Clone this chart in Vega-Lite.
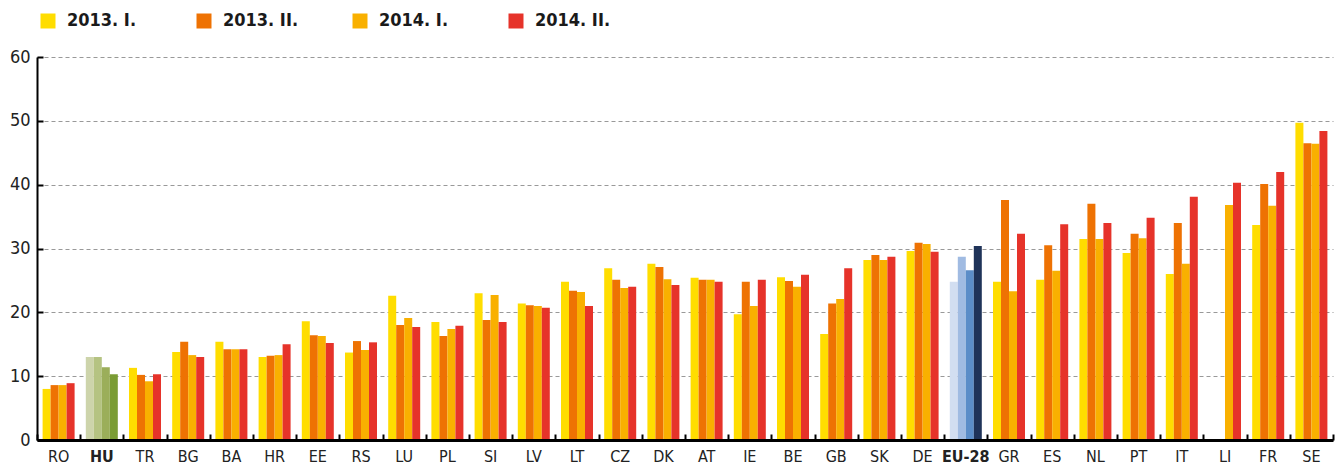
{
  "$schema": "https://vega.github.io/schema/vega-lite/v6.json",
  "width": 1296,
  "height": 383,
  "autosize": {"type": "none"},
  "padding": {"left": 37, "top": 57, "right": 6, "bottom": 25},
  "background": "white",
  "config": {
    "view": {"stroke": null},
    "font": "DejaVu Sans Condensed",
    "axis": {"labelFont": "DejaVu Sans Condensed", "labelColor": "#222222"}
  },
  "data": {
    "values": [
      {"country": "RO", "period": "2013. I.", "value": 8.0},
      {"country": "RO", "period": "2013. II.", "value": 8.6},
      {"country": "RO", "period": "2014. I.", "value": 8.6},
      {"country": "RO", "period": "2014. II.", "value": 8.9},
      {"country": "HU", "period": "2013. I.", "value": 13.0},
      {"country": "HU", "period": "2013. II.", "value": 13.0},
      {"country": "HU", "period": "2014. I.", "value": 11.4},
      {"country": "HU", "period": "2014. II.", "value": 10.3},
      {"country": "TR", "period": "2013. I.", "value": 11.3},
      {"country": "TR", "period": "2013. II.", "value": 10.2},
      {"country": "TR", "period": "2014. I.", "value": 9.2},
      {"country": "TR", "period": "2014. II.", "value": 10.3},
      {"country": "BG", "period": "2013. I.", "value": 13.8},
      {"country": "BG", "period": "2013. II.", "value": 15.4},
      {"country": "BG", "period": "2014. I.", "value": 13.3},
      {"country": "BG", "period": "2014. II.", "value": 13.0},
      {"country": "BA", "period": "2013. I.", "value": 15.4},
      {"country": "BA", "period": "2013. II.", "value": 14.2},
      {"country": "BA", "period": "2014. I.", "value": 14.2},
      {"country": "BA", "period": "2014. II.", "value": 14.2},
      {"country": "HR", "period": "2013. I.", "value": 13.0},
      {"country": "HR", "period": "2013. II.", "value": 13.2},
      {"country": "HR", "period": "2014. I.", "value": 13.3},
      {"country": "HR", "period": "2014. II.", "value": 15.0},
      {"country": "EE", "period": "2013. I.", "value": 18.6},
      {"country": "EE", "period": "2013. II.", "value": 16.4},
      {"country": "EE", "period": "2014. I.", "value": 16.3},
      {"country": "EE", "period": "2014. II.", "value": 15.2},
      {"country": "RS", "period": "2013. I.", "value": 13.7},
      {"country": "RS", "period": "2013. II.", "value": 15.5},
      {"country": "RS", "period": "2014. I.", "value": 14.1},
      {"country": "RS", "period": "2014. II.", "value": 15.3},
      {"country": "LU", "period": "2013. I.", "value": 22.6},
      {"country": "LU", "period": "2013. II.", "value": 18.0},
      {"country": "LU", "period": "2014. I.", "value": 19.1},
      {"country": "LU", "period": "2014. II.", "value": 17.7},
      {"country": "PL", "period": "2013. I.", "value": 18.5},
      {"country": "PL", "period": "2013. II.", "value": 16.3},
      {"country": "PL", "period": "2014. I.", "value": 17.4},
      {"country": "PL", "period": "2014. II.", "value": 17.9},
      {"country": "SI", "period": "2013. I.", "value": 23.0},
      {"country": "SI", "period": "2013. II.", "value": 18.8},
      {"country": "SI", "period": "2014. I.", "value": 22.7},
      {"country": "SI", "period": "2014. II.", "value": 18.5},
      {"country": "LV", "period": "2013. I.", "value": 21.4},
      {"country": "LV", "period": "2013. II.", "value": 21.1},
      {"country": "LV", "period": "2014. I.", "value": 21.0},
      {"country": "LV", "period": "2014. II.", "value": 20.7},
      {"country": "LT", "period": "2013. I.", "value": 24.8},
      {"country": "LT", "period": "2013. II.", "value": 23.4},
      {"country": "LT", "period": "2014. I.", "value": 23.2},
      {"country": "LT", "period": "2014. II.", "value": 21.0},
      {"country": "CZ", "period": "2013. I.", "value": 26.9},
      {"country": "CZ", "period": "2013. II.", "value": 25.1},
      {"country": "CZ", "period": "2014. I.", "value": 23.8},
      {"country": "CZ", "period": "2014. II.", "value": 24.0},
      {"country": "DK", "period": "2013. I.", "value": 27.6},
      {"country": "DK", "period": "2013. II.", "value": 27.1},
      {"country": "DK", "period": "2014. I.", "value": 25.2},
      {"country": "DK", "period": "2014. II.", "value": 24.3},
      {"country": "AT", "period": "2013. I.", "value": 25.4},
      {"country": "AT", "period": "2013. II.", "value": 25.1},
      {"country": "AT", "period": "2014. I.", "value": 25.1},
      {"country": "AT", "period": "2014. II.", "value": 24.8},
      {"country": "IE", "period": "2013. I.", "value": 19.7},
      {"country": "IE", "period": "2013. II.", "value": 24.8},
      {"country": "IE", "period": "2014. I.", "value": 21.0},
      {"country": "IE", "period": "2014. II.", "value": 25.1},
      {"country": "BE", "period": "2013. I.", "value": 25.5},
      {"country": "BE", "period": "2013. II.", "value": 24.9},
      {"country": "BE", "period": "2014. I.", "value": 24.0},
      {"country": "BE", "period": "2014. II.", "value": 25.9},
      {"country": "GB", "period": "2013. I.", "value": 16.6},
      {"country": "GB", "period": "2013. II.", "value": 21.4},
      {"country": "GB", "period": "2014. I.", "value": 22.1},
      {"country": "GB", "period": "2014. II.", "value": 26.9},
      {"country": "SK", "period": "2013. I.", "value": 28.2},
      {"country": "SK", "period": "2013. II.", "value": 29.0},
      {"country": "SK", "period": "2014. I.", "value": 28.2},
      {"country": "SK", "period": "2014. II.", "value": 28.7},
      {"country": "DE", "period": "2013. I.", "value": 29.6},
      {"country": "DE", "period": "2013. II.", "value": 30.9},
      {"country": "DE", "period": "2014. I.", "value": 30.7},
      {"country": "DE", "period": "2014. II.", "value": 29.5},
      {"country": "EU-28", "period": "2013. I.", "value": 24.8},
      {"country": "EU-28", "period": "2013. II.", "value": 28.7},
      {"country": "EU-28", "period": "2014. I.", "value": 26.6},
      {"country": "EU-28", "period": "2014. II.", "value": 30.4},
      {"country": "GR", "period": "2013. I.", "value": 24.8},
      {"country": "GR", "period": "2013. II.", "value": 37.6},
      {"country": "GR", "period": "2014. I.", "value": 23.3},
      {"country": "GR", "period": "2014. II.", "value": 32.3},
      {"country": "ES", "period": "2013. I.", "value": 25.1},
      {"country": "ES", "period": "2013. II.", "value": 30.5},
      {"country": "ES", "period": "2014. I.", "value": 26.5},
      {"country": "ES", "period": "2014. II.", "value": 33.8},
      {"country": "NL", "period": "2013. I.", "value": 31.5},
      {"country": "NL", "period": "2013. II.", "value": 37.0},
      {"country": "NL", "period": "2014. I.", "value": 31.5},
      {"country": "NL", "period": "2014. II.", "value": 34.0},
      {"country": "PT", "period": "2013. I.", "value": 29.3},
      {"country": "PT", "period": "2013. II.", "value": 32.3},
      {"country": "PT", "period": "2014. I.", "value": 31.6},
      {"country": "PT", "period": "2014. II.", "value": 34.8},
      {"country": "IT", "period": "2013. I.", "value": 26.0},
      {"country": "IT", "period": "2013. II.", "value": 34.0},
      {"country": "IT", "period": "2014. I.", "value": 27.6},
      {"country": "IT", "period": "2014. II.", "value": 38.1},
      {"country": "LI", "period": "2014. I.", "value": 36.8},
      {"country": "LI", "period": "2014. II.", "value": 40.3},
      {"country": "FR", "period": "2013. I.", "value": 33.7},
      {"country": "FR", "period": "2013. II.", "value": 40.1},
      {"country": "FR", "period": "2014. I.", "value": 36.7},
      {"country": "FR", "period": "2014. II.", "value": 42.0},
      {"country": "SE", "period": "2013. I.", "value": 49.7},
      {"country": "SE", "period": "2013. II.", "value": 46.5},
      {"country": "SE", "period": "2014. I.", "value": 46.4},
      {"country": "SE", "period": "2014. II.", "value": 48.4}
    ]
  },
  "encoding": {
    "x": {
      "field": "country",
      "type": "nominal",
      "title": null,
      "scale": {
        "domain": ["RO", "HU", "TR", "BG", "BA", "HR", "EE", "RS", "LU", "PL", "SI", "LV", "LT", "CZ", "DK", "AT", "IE", "BE", "GB", "SK", "DE", "EU-28", "GR", "ES", "NL", "PT", "IT", "LI", "FR", "SE"],
        "paddingInner": 0,
        "paddingOuter": 0
      }
    },
    "xOffset": {
      "field": "period",
      "type": "nominal",
      "scale": {"domain": ["2013. I.", "2013. II.", "2014. I.", "2014. II."], "paddingInner": 0, "paddingOuter": 0.7}
    },
    "y": {
      "field": "value",
      "type": "quantitative",
      "title": null,
      "scale": {"domain": [0, 60], "nice": false}
    }
  },
  "layer": [
    {
      "transform": [{"filter": "datum.country !== 'HU' && datum.country !== 'EU-28'"}],
      "mark": {"type": "bar"},
      "encoding": {
        "x": {
          "field": "country",
          "type": "nominal",
          "axis": {
            "orient": "bottom",
            "labelAngle": 0,
            "labelFontSize": 16,
            "labelFontWeight": {"condition": {"test": "datum.value === 'HU' || datum.value === 'EU-28'", "value": "bold"}, "value": "normal"},
            "ticks": false,
            "tickSize": 0,
            "labelPadding": 8,
            "domainColor": "#000000",
            "domainWidth": 3,
            "grid": false,
            "zindex": 2
          }
        },
        "y": {
          "field": "value",
          "type": "quantitative",
          "axis": {
            "orient": "left",
            "values": [0, 10, 20, 30, 40, 50, 60],
            "labelFontSize": 18,
            "ticks": false,
            "tickSize": 0,
            "labelPadding": 7,
            "domainColor": "#000000",
            "domainWidth": 2,
            "grid": true,
            "gridColor": "#999999",
            "gridDash": [4, 3],
            "gridWidth": 1.2,
            "zindex": 0
          }
        },
        "color": {
          "field": "period",
          "type": "nominal",
          "scale": {"domain": ["2013. I.", "2013. II.", "2014. I.", "2014. II."], "range": ["#FFDD00", "#EE7203", "#F9B000", "#E6332A"]},
          "legend": {
            "title": null,
            "orient": "none",
            "direction": "horizontal",
            "legendX": 2,
            "legendY": -45,
            "symbolType": "square",
            "symbolSize": 225,
            "symbolStrokeWidth": 0,
            "symbolOpacity": 1,
            "labelFont": "DejaVu Sans Condensed",
            "labelFontSize": 18,
            "labelFontWeight": "bold",
            "labelColor": "#1a1a1a",
            "labelOffset": 10,
            "gridAlign": "all",
            "columnPadding": 52
          }
        }
      }
    },
    {
      "transform": [{"filter": "datum.country === 'HU'"}],
      "mark": {"type": "bar"},
      "encoding": {
        "x": {
          "field": "country",
          "type": "nominal",
          "axis": {
            "orient": "bottom",
            "offset": -6,
            "labels": false,
            "domain": false,
            "grid": false,
            "ticks": true,
            "tickBand": "extent",
            "tickSize": 6,
            "tickWidth": 2,
            "tickColor": "#000000",
            "zindex": 2
          }
        },
        "y": {
          "field": "value",
          "type": "quantitative",
          "axis": {
            "orient": "left",
            "offset": -6,
            "values": [0, 10, 20, 30, 40, 50, 60],
            "labels": false,
            "domain": false,
            "grid": false,
            "ticks": true,
            "tickSize": 6,
            "tickWidth": 2,
            "tickColor": "#000000",
            "zindex": 2
          }
        },
        "color": {
          "field": "period",
          "type": "nominal",
          "scale": {"domain": ["2013. I.", "2013. II.", "2014. I.", "2014. II."], "range": ["#CDD4AB", "#B5C382", "#9BAE5A", "#7A9C34"]},
          "legend": null
        }
      }
    },
    {
      "transform": [{"filter": "datum.country === 'EU-28'"}],
      "mark": {"type": "bar"},
      "encoding": {
        "x": {"field": "country", "type": "nominal", "axis": null},
        "y": {"field": "value", "type": "quantitative", "axis": null},
        "color": {
          "field": "period",
          "type": "nominal",
          "scale": {"domain": ["2013. I.", "2013. II.", "2014. I.", "2014. II."], "range": ["#D2DEF1", "#A0BBE2", "#5B8DC8", "#1F3359"]},
          "legend": null
        }
      }
    }
  ],
  "resolve": {"scale": {"color": "independent"}, "axis": {"x": "independent", "y": "independent"}}
}
